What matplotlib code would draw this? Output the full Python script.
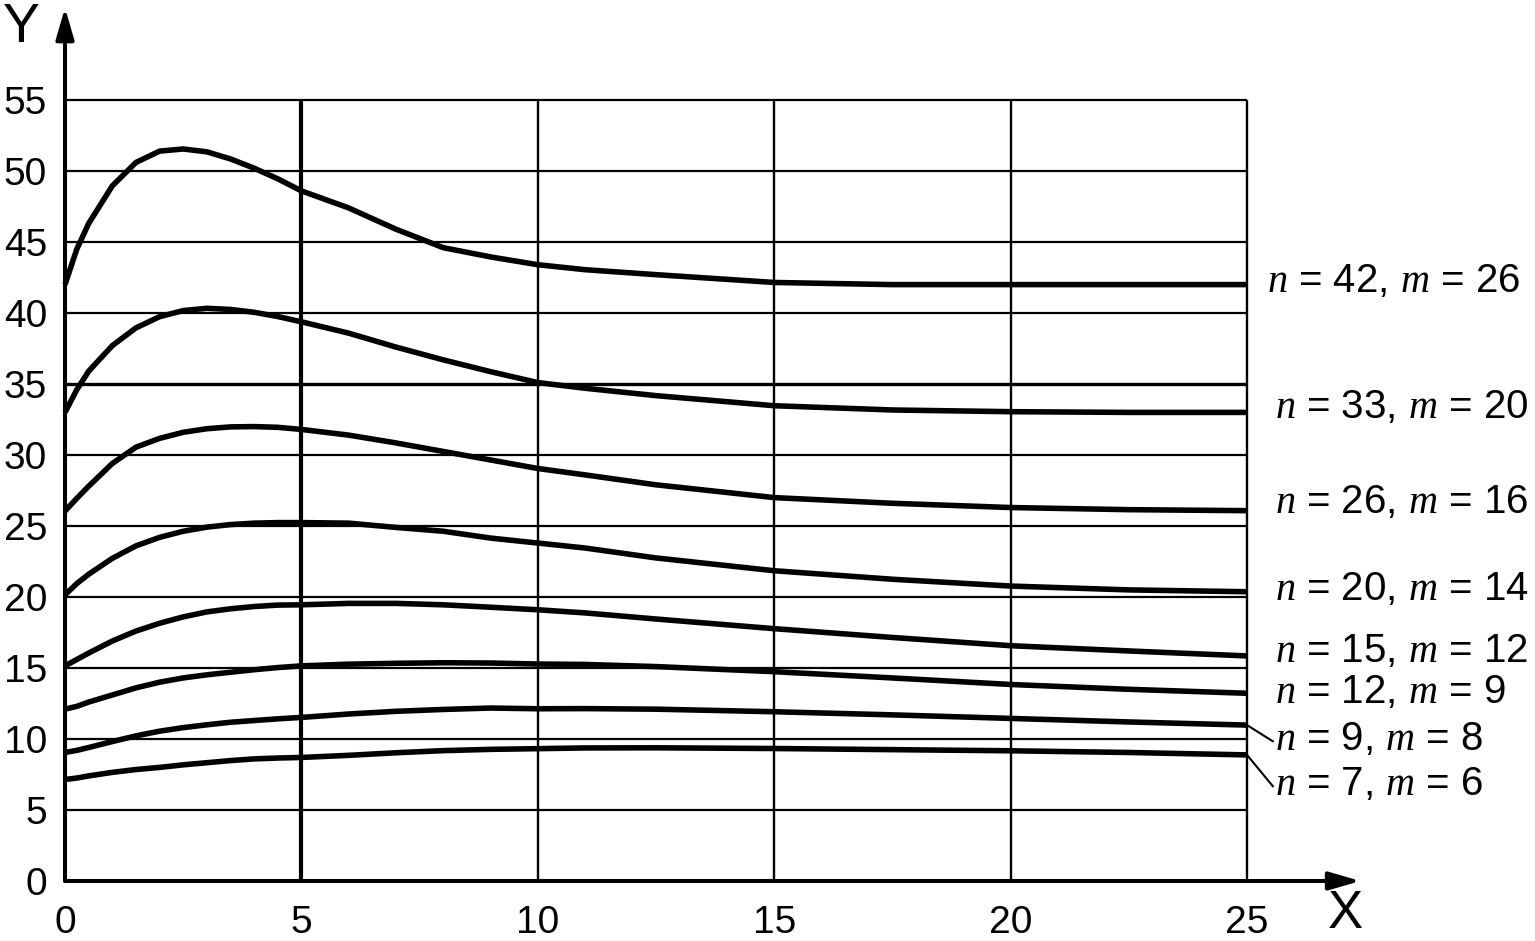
import matplotlib
matplotlib.use("Agg")
import matplotlib.pyplot as plt

plt.rcParams['font.family'] = ['Liberation Sans', 'DejaVu Sans']
plt.rcParams['mathtext.fontset'] = 'custom'
plt.rcParams['mathtext.it'] = 'Liberation Serif:italic'
plt.rcParams['mathtext.rm'] = 'Liberation Sans'

# ---- data ----
x_vals = [0, 0.25, 0.5, 1, 1.5, 2, 2.5, 3, 3.5, 4, 4.5, 5, 6, 7, 8, 9, 10, 11,
          12.5, 15, 17.5, 20, 22.5, 25]

y_n42 = [42.0, 44.5, 46.3, 48.95, 50.6, 51.4, 51.55, 51.35, 50.85, 50.2, 49.45,
         48.6, 47.4, 45.9, 44.6, 43.95, 43.4, 43.05, 42.7, 42.15, 42.0, 42.0, 42.0, 42.0]
y_n33 = [33.0, 34.6, 35.9, 37.7, 38.95, 39.74, 40.17, 40.33, 40.25, 40.05, 39.75,
         39.38, 38.58, 37.6, 36.7, 35.87, 35.1, 34.7, 34.18, 33.47, 33.17, 33.05, 33.0, 33.0]
y_n26 = [26.05, 26.95, 27.8, 29.4, 30.55, 31.17, 31.6, 31.85, 31.98, 32.0, 31.95,
         31.8, 31.4, 30.85, 30.25, 29.65, 29.05, 28.6, 27.9, 27.0, 26.6, 26.3, 26.15, 26.08]
y_n20 = [20.15, 20.95, 21.6, 22.72, 23.6, 24.2, 24.63, 24.92, 25.1, 25.2, 25.24,
         25.24, 25.2, 24.9, 24.63, 24.15, 23.8, 23.45, 22.75, 21.85, 21.25, 20.77, 20.5, 20.37]
y_n15 = [15.15, 15.6, 16.05, 16.9, 17.6, 18.15, 18.6, 18.95, 19.17, 19.33, 19.43,
         19.45, 19.55, 19.55, 19.45, 19.28, 19.1, 18.88, 18.45, 17.77, 17.15, 16.57, 16.2, 15.85]
y_n12 = [12.1, 12.3, 12.6, 13.1, 13.6, 14.0, 14.3, 14.52, 14.7, 14.88, 15.03,
         15.15, 15.27, 15.33, 15.37, 15.35, 15.28, 15.25, 15.1, 14.74, 14.3, 13.84, 13.5, 13.22]
y_n9 = [9.05, 9.2, 9.4, 9.82, 10.22, 10.55, 10.8, 11.0, 11.18, 11.3, 11.42,
        11.52, 11.76, 11.95, 12.08, 12.18, 12.13, 12.14, 12.1, 11.92, 11.7, 11.45, 11.2, 10.98]
y_n7 = [7.15, 7.25, 7.4, 7.65, 7.85, 8.0, 8.18, 8.33, 8.48, 8.6, 8.66,
        8.7, 8.85, 9.03, 9.18, 9.27, 9.32, 9.37, 9.38, 9.33, 9.25, 9.17, 9.05, 8.88]

series = [y_n42, y_n33, y_n26, y_n20, y_n15, y_n12, y_n9, y_n7]
labels = [r'$n$ = 42, $m$ = 26', r'$n$ = 33, $m$ = 20', r'$n$ = 26, $m$ = 16',
          r'$n$ = 20, $m$ = 14', r'$n$ = 15, $m$ = 12', r'$n$ = 12, $m$ = 9',
          r'$n$ = 9, $m$ = 8', r'$n$ = 7, $m$ = 6']

x_ticks = [0, 5, 10, 15, 20, 25]
y_ticks = [0, 5, 10, 15, 20, 25, 30, 35, 40, 45, 50, 55]

# ---- layout / style ----
label_baseline = [41.48, 32.6, 25.9, 19.8, 15.42, 12.54, 9.23, 6.06]
label_x = [25.42, 25.6, 25.6, 25.6, 25.6, 25.6, 25.6, 25.6]
leader = [False, False, False, False, False, False, True, True]

W, H = 1535, 941
fig = plt.figure(figsize=(W / 100, H / 100), dpi=100)
ax = fig.add_axes([65 / W, 1 - 881 / H, (1247 - 65) / W, (881 - 100) / H])
ax.set_xlim(0, 25)
ax.set_ylim(0, 55)
for s in ax.spines.values():
    s.set_visible(False)

# grid lines
for yv in y_ticks[1:]:
    ax.hlines(yv, 0, 25, color='black', lw=2.4 if yv == 35 else 1.6, clip_on=False, zorder=1)
for xv in x_ticks[1:]:
    ax.vlines(xv, 0, 55, color='black', lw=3.0 if xv == 5 else 1.7, clip_on=False, zorder=1)

# curves
for ys in series:
    ax.plot(x_vals, ys, color='black', lw=4.0, solid_joinstyle='round',
            solid_capstyle='butt', clip_on=False, zorder=3)

# axes arrows
ax.annotate('', xy=(27.4, 0), xytext=(0, 0), xycoords='data', annotation_clip=False,
            arrowprops=dict(arrowstyle='-|>,head_length=1.9,head_width=0.55',
                            mutation_scale=10, lw=2.9, color='black',
                            shrinkA=0, shrinkB=0), zorder=4)
ax.annotate('', xy=(0, 61.5), xytext=(0, 0), xycoords='data', annotation_clip=False,
            arrowprops=dict(arrowstyle='-|>,head_length=1.9,head_width=0.55',
                            mutation_scale=10, lw=2.9, color='black',
                            shrinkA=0, shrinkB=0), zorder=4)

# ticks
ax.set_xticks(x_ticks)
ax.set_yticks(y_ticks)
ax.set_xticklabels([str(v) for v in x_ticks])
ax.set_yticklabels([str(v) for v in y_ticks])
ax.tick_params(axis='both', length=0, labelsize=28, colors='black')
ax.tick_params(axis='x', pad=17)
ax.tick_params(axis='y', pad=13)

# axis titles
fig.text(21 / W, 1 - 42 / H, 'Y', fontsize=40, ha='center', va='baseline')
fig.text(1345 / W, 1 - 928 / H, 'X', fontsize=38, ha='center', va='baseline')

# curve labels
for ys, lab, ly, lx, ld in zip(series, labels, label_baseline, label_x, leader):
    ax.text(lx, ly, lab, fontsize=29, ha='left', va='baseline', clip_on=False)
    if ld:
        ax.annotate('', xy=(lx - 0.05, ly + 0.6), xytext=(25, ys[-1]),
                    annotation_clip=False,
                    arrowprops=dict(arrowstyle='-', lw=1.5, color='black',
                                    shrinkA=0, shrinkB=0))

fig.savefig('out.png', dpi=100, facecolor='white')
